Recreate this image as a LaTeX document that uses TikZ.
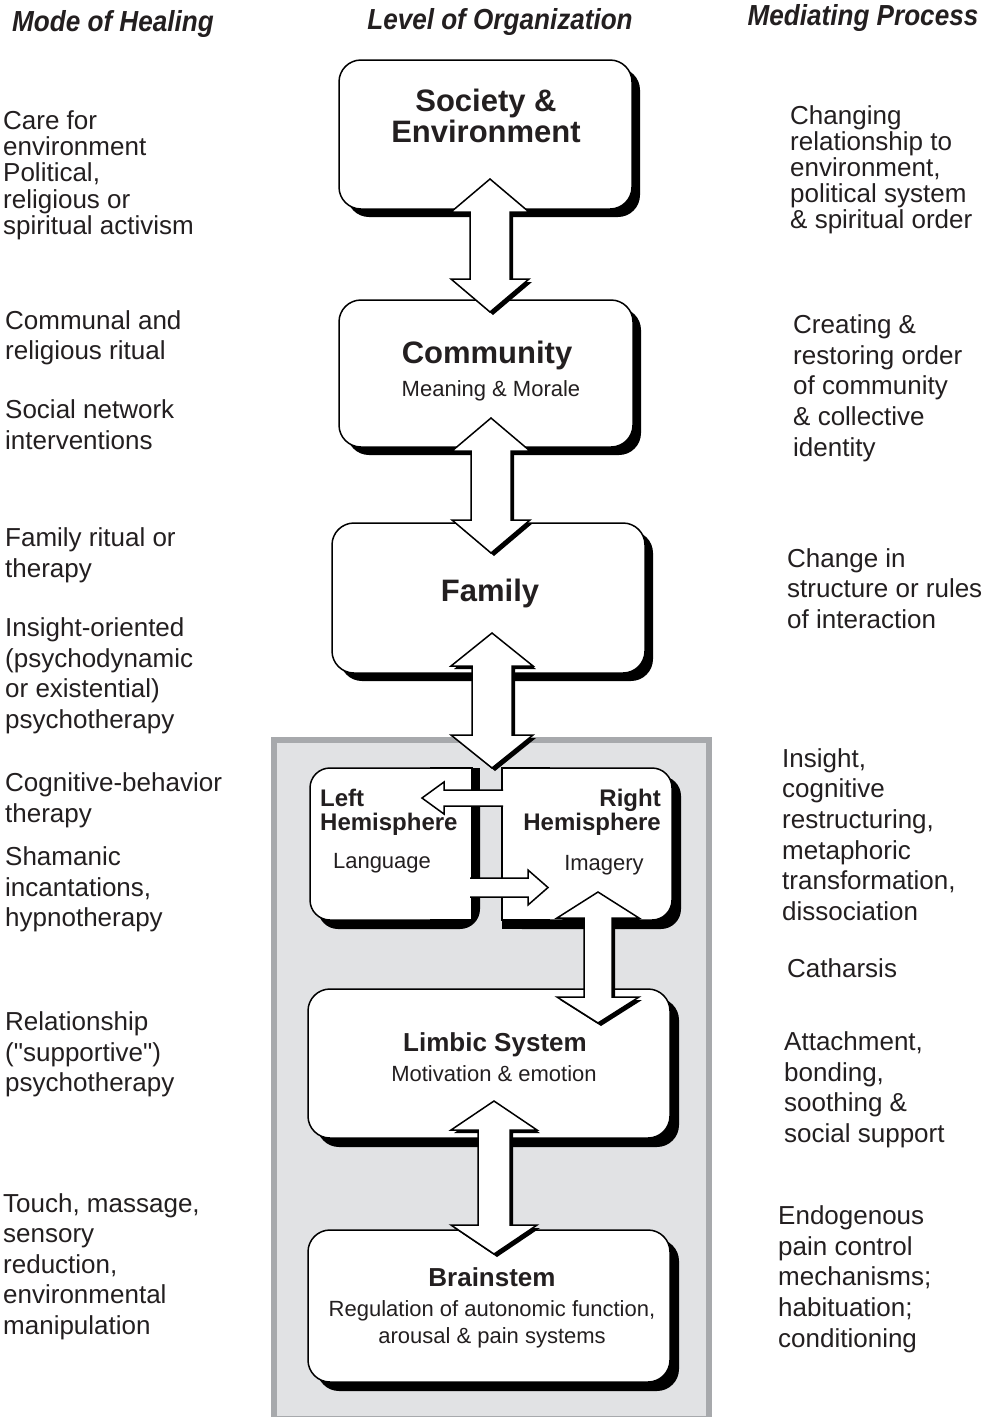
\documentclass[tikz,border=0pt]{standalone}
\usepackage{fontspec}
\setmainfont{Liberation Sans}
\newfontfamily\hdrfont[FakeStretch=0.9]{Liberation Sans}
\newfontfamily\qfont{Liberation Sans}
\usetikzlibrary{shadows}
\definecolor{ink}{HTML}{231F20}
\definecolor{panel}{HTML}{E1E2E4}
\definecolor{panelrim}{HTML}{A7A9AC}
% vertical double block arrow: cx, ytop, ybot, head half-width, shaft half-width, head length
\newcommand\VArrow[6]{%
  \fill[black,shift={(3,3)}] ({#1},{#2}) -- ({#1+#4},{#2+#6}) -- ({#1+#5},{#2+#6}) -- ({#1+#5},{#3-#6}) -- ({#1+#4},{#3-#6}) -- ({#1},{#3}) -- ({#1-#4},{#3-#6}) -- ({#1-#5},{#3-#6}) -- ({#1-#5},{#2+#6}) -- ({#1-#4},{#2+#6}) -- cycle;
  \filldraw[blockarrow] ({#1},{#2}) -- ({#1+#4},{#2+#6}) -- ({#1+#5},{#2+#6}) -- ({#1+#5},{#3-#6}) -- ({#1+#4},{#3-#6}) -- ({#1},{#3}) -- ({#1-#4},{#3-#6}) -- ({#1-#5},{#3-#6}) -- ({#1-#5},{#2+#6}) -- ({#1-#4},{#2+#6}) -- cycle;}
% block of side text lines: name, x, y of first line centre, spacing, lines
\newcommand\Lines[5]{\foreach \t [count=\i from 0] in {#5} {\node[side, anchor=base west] (#1-\i) at ({#2},{#3+9.3+\i*#4}) {\t};}}
\begin{document}
\begin{tikzpicture}[x=1pt,y=-1pt,
  side/.style={font=\fontsize{26}{30}\selectfont, text=ink, inner sep=0pt},
  hdr/.style={font=\hdrfont\bfseries\itshape\fontsize{29}{29}\selectfont, text=ink, inner sep=0pt, anchor=base},
  ttl/.style={font=\bfseries\fontsize{31}{31}\selectfont, text=ink, inner sep=0pt, anchor=base},
  ttlsm/.style={font=\bfseries\fontsize{26}{26}\selectfont, text=ink, inner sep=0pt, anchor=base},
  hemi/.style={font=\bfseries\fontsize{24}{24}\selectfont, text=ink, inner sep=0pt},
  sub/.style={font=\fontsize{22}{22}\selectfont, text=ink, inner sep=0pt, anchor=base},
  lvl/.style={draw=black, fill=white, line width=1.5pt, rounded corners=22pt, inner sep=0pt},
  shadowA/.style={drop shadow={shadow xshift=8pt, shadow yshift=-8pt, opacity=1, fill=black}},
  shadowB/.style={drop shadow={shadow xshift=9pt, shadow yshift=-9pt, opacity=1, fill=black}},
  blockarrow/.style={draw=black, fill=white, line width=1.5pt, line join=miter},
  thinarrow/.style={draw=black, line width=1.5pt, line join=miter}]
\useasboundingbox (0,0) rectangle (982,1417);
\fill[white] (0,0) rectangle (982,1417);

% headers
\node[hdr] (h1) at (113,31) {Mode of Healing};
\node[hdr] (h2) at (500,29) {Level of Organization};
\node[hdr] (h3) at (863,25) {Mediating Process};

% grey panel
\draw[panelrim, fill=panel, line width=6pt] (274,740) rectangle (709,1419);

% level boxes
\node[lvl, shadowA, minimum width=293pt, minimum height=149pt] (soc) at (485.5,134.5) {};
\node[lvl, shadowA, minimum width=294pt, minimum height=147pt] (com) at (486,373.5) {};
\node[lvl, shadowA, minimum width=313pt, minimum height=150pt] (fam) at (488.5,598) {};
\node[lvl, shadowB, minimum width=362pt, minimum height=149pt] (lim) at (489,1063.5) {};
\node[lvl, shadowB, minimum width=362pt, minimum height=152pt] (bra) at (489,1306) {};

% hemispheres: shadows
\fill[black, rounded corners=20pt] (318,776) rectangle (480,929);
\fill[black] (472,768) rectangle (480,800);
\fill[black, rounded corners=20pt] (502,776) rectangle (681,929);
\fill[black] (502,776) rectangle (560,929);
% left hemisphere box
\filldraw[fill=white, line width=1.5pt, rounded corners=20pt] (310,768) rectangle (472,920);
\fill[white] (430,768.8) rectangle (471.2,919.2);
\draw[line width=1.5pt] (430,768) -- (472,768) -- (472,920) -- (430,920);
% right hemisphere box
\filldraw[fill=white, line width=1.5pt, rounded corners=20pt] (502,768) rectangle (672,920);
\fill[white] (502.8,768.8) rectangle (550,919.2);
\draw[line width=1.5pt] (550,768) -- (502,768) -- (502,920) -- (550,920);

% vertical block arrows between levels
\VArrow{490}{179}{312}{39}{20}{33}
\VArrow{491}{418}{553}{39}{20}{33}
\VArrow{492}{633}{768}{41}{20}{33}
\VArrow{598}{892}{1023}{41}{14}{26}
\VArrow{494}{1101}{1254}{43}{16}{29}

% arrows between hemispheres
\fill[white] (504,790) -- (444,790) -- (444,782) -- (422,798) -- (444,814) -- (444,806) -- (504,806) -- cycle;
\draw[thinarrow] (503,790) -- (444,790) -- (444,782) -- (422,798) -- (444,814) -- (444,806) -- (503,806);
\fill[white] (469,878) -- (528,878) -- (528,870) -- (548,887.5) -- (528,905) -- (528,897) -- (469,897) -- cycle;
\draw[thinarrow] (470,878) -- (528,878) -- (528,870) -- (548,887.5) -- (528,905) -- (528,897) -- (470,897);

% box texts
\node[ttl] (soc-a) at (486,111) {Society \&};
\node[ttl] (soc-b) at (486,142) {Environment};
\node[ttl] (com-a) at (487,363) {Community};
\node[sub] (com-b) at (491,396) {Meaning \& Morale};
\node[ttl] (fam-a) at (490,601) {Family};
\node[hemi, anchor=base west] (lh-a) at (320,806) {Left};
\node[hemi, anchor=base west] (lh-b) at (320,830) {Hemisphere};
\node[hemi, anchor=base east] (rh-a) at (661,806) {Right};
\node[hemi, anchor=base east] (rh-b) at (661,830) {Hemisphere};
\node[sub] (lh-c) at (382,868) {Language};
\node[sub] (rh-c) at (604,870) {Imagery};
\node[ttlsm] (lim-a) at (495,1051) {Limbic System};
\node[sub] (lim-b) at (494,1081) {Motivation \& emotion};
\node[ttlsm] (bra-a) at (492,1286) {Brainstem};
\node[sub] (bra-b) at (492,1316) {Regulation of autonomic function,};
\node[sub] (bra-c) at (492,1343) {arousal \& pain systems};

% modes of healing
\Lines{m1}{3}{120}{26.3}{Care for, environment, {Political,}, religious or, spiritual activism}
\Lines{m2}{5}{320}{30.5}{Communal and, religious ritual}
\Lines{m3}{5}{409}{30.7}{Social network, interventions}
\Lines{m4}{5}{537}{30.7}{Family ritual or, therapy}
\Lines{m5}{5}{627}{30.7}{Insight-oriented, {(psychodynamic}, {or existential)}, psychotherapy}
\Lines{m6}{5}{782}{30.7}{Cognitive-behavior, therapy}
\Lines{m7}{5}{856}{30.7}{Shamanic, {incantations,}, hypnotherapy}
\Lines{m8}{5}{1021}{30.7}{Relationship, {({\qfont"}supportive{\qfont"})}, psychotherapy}
\Lines{m9}{3}{1203}{30.5}{{Touch, massage,}, sensory, {reduction,}, environmental, manipulation}

% mediating processes
\Lines{p1}{790}{115}{26}{Changing, relationship to, {environment,}, political system, \& spiritual order}
\Lines{p2}{793}{324}{30.7}{Creating \&, restoring order, of community, \& collective, identity}
\Lines{p3}{787}{558}{30.5}{Change in, structure or rules, of interaction}
\Lines{p4}{782}{758}{30.6}{{Insight,}, cognitive, {restructuring,}, metaphoric, {transformation,}, dissociation}
\Lines{p5}{787}{968}{30}{Catharsis}
\Lines{p6}{784}{1041}{30.7}{{Attachment,}, {bonding,}, soothing \&, social support}
\Lines{p7}{778}{1215}{30.7}{Endogenous, pain control, {mechanisms;}, {habituation;}, conditioning}
\end{tikzpicture}
\end{document}
